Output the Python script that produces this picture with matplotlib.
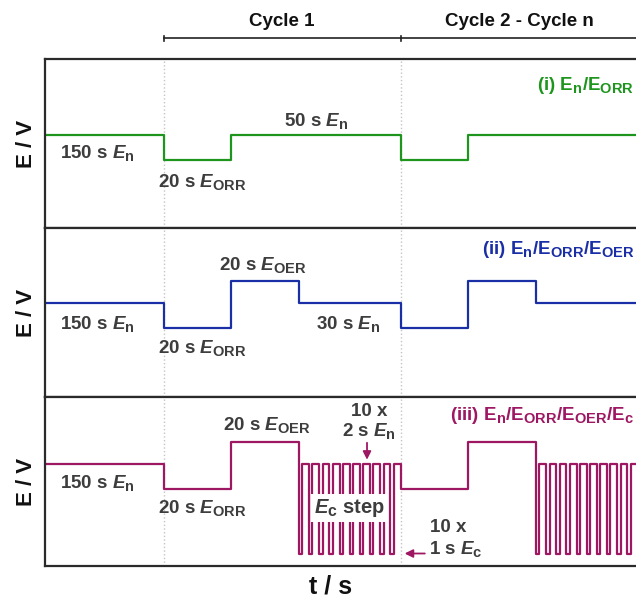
import numpy as np
import matplotlib.pyplot as plt
import matplotlib._mathtext as mathtext_mod

plt.rcParams['font.family'] = 'Liberation Sans'
plt.rcParams['font.weight'] = 'bold'
plt.rcParams['mathtext.fontset'] = 'custom'
plt.rcParams['mathtext.rm'] = 'Liberation Sans:bold'
plt.rcParams['mathtext.it'] = 'Liberation Sans:italic:bold'
plt.rcParams['mathtext.bf'] = 'Liberation Sans:bold'
# subscripts in the original are a bit larger than mathtext's default
mathtext_mod.SHRINK_FACTOR = 0.78

# potential levels (schematic units)
level = {'n': 0, 'ORR': -25, 'OER': 22, 'c': -90}

# the 150 s E_n hold is drawn compressed
lead_in = 35

# one cycle per protocol: potential step + duration in s
cyc1_steps = ['ORR', 'n']
cyc1_durs = [20, 50]
cyc2_steps = ['ORR', 'OER', 'n']
cyc2_durs = [20, 20, 30]
cyc3_steps = ['ORR', 'OER'] + ['c', 'n'] * 10
cyc3_durs = [20, 20] + [1, 2] * 10
n_cycles = 2

cycle_starts = [35, 105]
cycle_names = ['Cycle 1', 'Cycle 2 - Cycle n']

colors = ['#1e961e', '#1a2ea6', '#9e1762']
txt = '#3d3d3d'

W, H = 636, 599
def box(x0, y0, x1, y1):
    return [x0 / W, 1 - y1 / H, (x1 - x0) / W, (y1 - y0) / H]

pxs = 3.386  # px per second
xmax = 175
xr = 45 + xmax * pxs

fig = plt.figure(figsize=(6.36, 5.99), dpi=100)

# cycle bracket on top
axb = fig.add_axes(box(45, 0, xr, 59))
axb.set_xlim(0, xmax)
axb.set_ylim(59, 0)
axb.axis('off')
axb.plot([cycle_starts[0], xmax], [38, 38], color='#222222', lw=1.2)
for c in cycle_starts:
    axb.plot([c, c], [35.5, 40.5], color='#222222', lw=1.2)
for c, name in zip(cycle_starts, cycle_names):
    axb.text(c + 35, 22, name, ha='center', va='center', fontsize=13.5, color='#111111')

tops = [59, 228, 397, 566]
ylims = [(-93, 76), (-94, 75), (-102, 67)]
protocols = [(cyc1_steps, cyc1_durs), (cyc2_steps, cyc2_durs), (cyc3_steps, cyc3_durs)]
axes = []
for i in range(3):
    ax = fig.add_axes(box(45, tops[i], xr, tops[i + 1]))
    ax.set_xlim(0, xmax)
    ax.set_ylim(*ylims[i])
    ax.set_xticks([])
    ax.set_yticks([])
    ax.spines['right'].set_visible(False)
    for s in ['left', 'top', 'bottom']:
        ax.spines[s].set_color('#2a2a2a')
        ax.spines[s].set_linewidth(1.6)
    for c in cycle_starts:
        ax.axvline(c, color='#c4c4c4', ls=':', lw=1.0, zorder=0)
    st, du = protocols[i]
    lv = ['n'] + st * n_cycles
    dd = [lead_in] + du * n_cycles
    t = np.concatenate([[0], np.cumsum(dd)])
    y = [level[k] for k in lv] + [level[lv[-1]]]
    ax.step(t, y, where='post', color=colors[i], lw=1.6, zorder=2)
    fig.text(26 / W, 1 - (tops[i] + tops[i + 1]) / 2 / H, 'E / V', rotation=90,
             ha='center', va='center', fontsize=16, color='#111111')
    axes.append(ax)

fs = 13.5
ax1, ax2, ax3 = axes

ax1.text(4.5, -18, r'150 s $E_{\mathrm{n}}$', ha='left', va='center', fontsize=fs, color=txt)
ax1.text(33.5, -47, r'20 s $E_{\mathrm{ORR}}$', ha='left', va='center', fontsize=fs, color=txt)
ax1.text(80, 14, r'50 s $E_{\mathrm{n}}$', ha='center', va='center', fontsize=fs, color=txt)
ax1.text(174, 50, r'(i) E$_{\mathrm{n}}$/E$_{\mathrm{ORR}}$', ha='right', va='center',
         fontsize=fs, color=colors[0])

ax2.text(4.5, -21, r'150 s $E_{\mathrm{n}}$', ha='left', va='center', fontsize=fs, color=txt)
ax2.text(33.5, -45, r'20 s $E_{\mathrm{ORR}}$', ha='left', va='center', fontsize=fs, color=txt)
ax2.text(51.4, 38, r'20 s $E_{\mathrm{OER}}$', ha='left', va='center', fontsize=fs, color=txt)
ax2.text(80, -21, r'30 s $E_{\mathrm{n}}$', ha='left', va='center', fontsize=fs, color=txt)
ax2.text(174, 53, r'(ii) E$_{\mathrm{n}}$/E$_{\mathrm{ORR}}$/E$_{\mathrm{OER}}$', ha='right',
         va='center', fontsize=fs, color=colors[1])

ax3.text(4.5, -19, r'150 s $E_{\mathrm{n}}$', ha='left', va='center', fontsize=fs, color=txt)
ax3.text(33.5, -44, r'20 s $E_{\mathrm{ORR}}$', ha='left', va='center', fontsize=fs, color=txt)
ax3.text(52.6, 39, r'20 s $E_{\mathrm{OER}}$', ha='left', va='center', fontsize=fs, color=txt)
ax3.text(95.7, 52, '10 x', ha='center', va='center', fontsize=fs, color=txt)
ax3.text(95.7, 33, r'2 s $E_{\mathrm{n}}$', ha='center', va='center', fontsize=fs, color=txt)
ax3.annotate('', xy=(95.1, 1.5), xytext=(95.1, 24),
             arrowprops=dict(arrowstyle='-|>', color=colors[2], lw=1.3, mutation_scale=12))
ax3.text(89.8, -44, r'$E_{\mathrm{c}}$ step', ha='center', va='center', fontsize=14.5,
         color=txt, zorder=5,
         bbox=dict(boxstyle='square,pad=0.15', fc='white', ec='none'))
ax3.text(119, -63, '10 x', ha='center', va='center', fontsize=fs, color=txt)
ax3.text(113.5, -85, r'1 s $E_{\mathrm{c}}$', ha='left', va='center', fontsize=fs, color=txt)
ax3.annotate('', xy=(105.4, -89.5), xytext=(113, -89.5),
             arrowprops=dict(arrowstyle='-|>', color=colors[2], lw=1.3, mutation_scale=12))
ax3.text(174, 49, r'(iii) E$_{\mathrm{n}}$/E$_{\mathrm{ORR}}$/E$_{\mathrm{OER}}$/E$_{\mathrm{c}}$',
         ha='right', va='center', fontsize=fs, color=colors[2])

fig.text(331 / W, 1 - 587 / H, 't / s', ha='center', va='center', fontsize=18, color='#111111')

fig.savefig('out.png', dpi=100)
